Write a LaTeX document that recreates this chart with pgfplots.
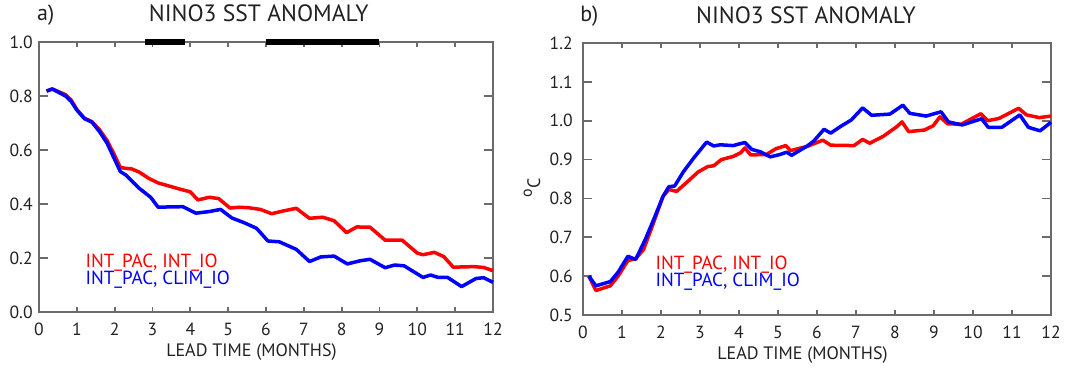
\documentclass[border=0pt]{standalone}
\usepackage{fontspec}
\setmainfont{PT Sans}
\usepackage{pgfplots}
\pgfplotsset{compat=1.18}

\definecolor{framegray}{gray}{0.42}
\definecolor{labelgray}{gray}{0.13}
\definecolor{ired}{RGB}{255,0,0}
\definecolor{iblue}{RGB}{0,0,255}

\pgfplotsset{
  leadaxis/.style={
    scale only axis,
    xmin=0, xmax=12, xtick={0,...,12},
    axis line style={framegray, line width=0.9pt},
    tick style={framegray, line width=0.9pt},
    tick align=inside,
    major tick length=4.6pt,
    xtick style={/pgfplots/major tick length=2.6pt},
    /pgf/number format/assume math mode=true,
    tick label style={font=\fontsize{8.8}{10}\selectfont, text=labelgray, inner sep=0pt},
    xticklabel style={yshift=-5.5pt},
    yticklabel style={/pgf/number format/fixed, /pgf/number format/precision=1,
                      /pgf/number format/fixed zerofill},
    xlabel={LEAD TIME (MONTHS)},
    xlabel style={font=\fontsize{9}{10}\selectfont, text=labelgray, inner sep=0pt,
                  at={(axis description cs:0.468,0)}, anchor=north, yshift=-15.6pt},
    title style={font=\fontsize{11.8}{13}\selectfont, text=labelgray, inner sep=0pt, anchor=base},
    clip=false,
  },
  ser/.style={line width=1.75pt, line join=round, #1},
}

\begin{document}
\begin{tikzpicture}
\useasboundingbox (0,0) rectangle (532.5pt,184pt);

% ---- a) NINO3 correlation skill ----
\begin{axis}[leadaxis,
  at={(19.5pt,28pt)}, anchor=south west,
  width=227pt, height=135pt,
  ymin=0, ymax=1.0, ytick={0,0.2,...,1.0},
  yticklabel style={xshift=-3pt},
  title={NINO3 SST ANOMALY},
  title style={at={(axis description cs:0.484,1)}, yshift=4.3pt},
]
% observed-period bars along the top frame
\addplot[black, line width=2.9pt, line cap=butt, forget plot] coordinates {(2.80,1.0) (3.86,1.0)};
\addplot[black, line width=2.9pt, line cap=butt, forget plot] coordinates {(6.00,1.0) (8.99,1.0)};

% INT_PAC, INT_IO
\addplot[ser=ired] coordinates {
(0.2,0.818) (0.35,0.826) (0.7,0.805) (0.85,0.785) (1.0,0.750) (1.2,0.718)
(1.4,0.705) (1.6,0.675) (1.8,0.635) (2.0,0.580) (2.15,0.535) (2.3,0.532)
(2.45,0.530) (2.65,0.518) (2.9,0.495) (3.15,0.478) (3.4,0.468) (3.7,0.456)
(4.0,0.445) (4.2,0.415) (4.5,0.425) (4.75,0.420) (5.05,0.385) (5.3,0.388)
(5.55,0.386) (5.85,0.380) (6.15,0.364) (6.45,0.374) (6.8,0.384) (7.15,0.347)
(7.5,0.351) (7.8,0.338) (8.13,0.294) (8.4,0.315) (8.75,0.314) (9.15,0.266)
(9.6,0.266) (10.0,0.218) (10.15,0.212) (10.45,0.221) (10.7,0.205) (10.95,0.166)
(11.5,0.168) (11.75,0.165) (12.0,0.153)
};
% INT_PAC, CLIM_IO
\addplot[ser=iblue] coordinates {
(0.2,0.818) (0.35,0.826) (0.7,0.800) (0.85,0.780) (1.0,0.748) (1.2,0.716)
(1.4,0.703) (1.6,0.668) (1.8,0.625) (2.0,0.565) (2.15,0.520) (2.3,0.507)
(2.65,0.458) (2.95,0.425) (3.15,0.388) (3.4,0.389) (3.8,0.390) (4.15,0.366)
(4.5,0.372) (4.8,0.380) (5.1,0.348) (5.4,0.332) (5.75,0.310) (6.05,0.263)
(6.35,0.260) (6.8,0.232) (7.15,0.187) (7.45,0.204) (7.8,0.207) (8.15,0.178)
(8.5,0.190) (8.75,0.195) (9.15,0.164) (9.4,0.174) (9.65,0.171) (10.15,0.128)
(10.35,0.137) (10.55,0.128) (10.8,0.128) (11.17,0.094) (11.55,0.124) (11.75,0.127)
(12.0,0.110)
};
\node[anchor=base west, inner sep=0pt, text=ired, font=\fontsize{9.5}{10}\selectfont]
  at (axis cs:1.22,0.163) {INT\_PAC, INT\_IO};
\node[anchor=base west, inner sep=0pt, text=iblue, font=\fontsize{9.5}{10}\selectfont]
  at (axis cs:1.22,0.100) {INT\_PAC, CLIM\_IO};
\node[anchor=base west, inner sep=0pt, text=labelgray, font=\fontsize{11}{12}\selectfont]
  at (rel axis cs:-0.005,1) [yshift=10.5pt] {a)};
\end{axis}

% ---- b) NINO3 RMSE ----
\begin{axis}[leadaxis,
  at={(291.5pt,26.5pt)}, anchor=south west,
  width=234pt, height=136pt,
  ymin=0.5, ymax=1.2, ytick={0.5,0.6,...,1.21},
  yticklabel style={xshift=-5pt},
  xlabel style={at={(axis description cs:0.469,0)}},
  title={NINO3 SST ANOMALY},
  title style={at={(axis description cs:0.4765,1)}, yshift=4pt},
]
% INT_PAC, INT_IO
\addplot[ser=ired] coordinates {
(0.15,0.600) (0.33,0.563) (0.7,0.575) (0.9,0.600) (1.15,0.640) (1.35,0.645)
(1.55,0.668) (1.8,0.735) (2.05,0.805) (2.2,0.823) (2.4,0.818) (2.7,0.845)
(2.95,0.868) (3.2,0.882) (3.35,0.884) (3.55,0.900) (3.85,0.908) (4.05,0.918)
(4.15,0.930) (4.3,0.912) (4.7,0.913) (4.95,0.928) (5.2,0.936) (5.32,0.923)
(5.75,0.934) (6.15,0.950) (6.35,0.937) (6.95,0.936) (7.17,0.952) (7.35,0.942)
(7.7,0.960) (8.05,0.985) (8.18,0.997) (8.35,0.972) (8.75,0.976) (8.98,0.987)
(9.15,1.010) (9.35,0.992) (9.7,0.991) (10.2,1.018) (10.38,1.000) (10.67,1.006)
(11.17,1.032) (11.37,1.015) (11.7,1.008) (12.0,1.012)
};
% INT_PAC, CLIM_IO
\addplot[ser=iblue] coordinates {
(0.15,0.600) (0.33,0.575) (0.7,0.586) (0.9,0.610) (1.15,0.651) (1.35,0.643)
(1.6,0.695) (1.85,0.755) (2.05,0.805) (2.2,0.830) (2.35,0.832) (2.57,0.868)
(2.83,0.903) (3.17,0.945) (3.35,0.935) (3.52,0.938) (3.85,0.936) (4.15,0.944)
(4.33,0.926) (4.55,0.920) (4.8,0.907) (5.05,0.913) (5.22,0.919) (5.35,0.911)
(5.75,0.935) (5.92,0.948) (6.18,0.978) (6.35,0.968) (6.6,0.985) (6.88,1.002)
(7.17,1.033) (7.4,1.014) (7.87,1.017) (8.2,1.040) (8.38,1.019) (8.8,1.012)
(9.18,1.023) (9.37,0.997) (9.72,0.989) (10.22,1.005) (10.39,0.983) (10.74,0.983)
(11.2,1.015) (11.42,0.983) (11.72,0.974) (12.0,0.996)
};
\node[anchor=base west, inner sep=0pt, text=ired, font=\fontsize{9.5}{10}\selectfont]
  at (axis cs:1.85,0.616) {INT\_PAC, INT\_IO};
\node[anchor=base west, inner sep=0pt, text=iblue, font=\fontsize{9.5}{10}\selectfont]
  at (axis cs:1.85,0.573) {INT\_PAC, CLIM\_IO};
\node[rotate=90, inner sep=0pt, text=labelgray, font=\fontsize{9}{10}\selectfont]
  at (rel axis cs:-0.109,0.467) {\raisebox{0.45em}{\fontsize{8}{9}\selectfont o}C};
\node[anchor=base west, inner sep=0pt, text=labelgray, font=\fontsize{11}{12}\selectfont]
  at (rel axis cs:0,1) [xshift=-1.5pt, yshift=10.75pt] {b)};
\end{axis}
\end{tikzpicture}
\end{document}
